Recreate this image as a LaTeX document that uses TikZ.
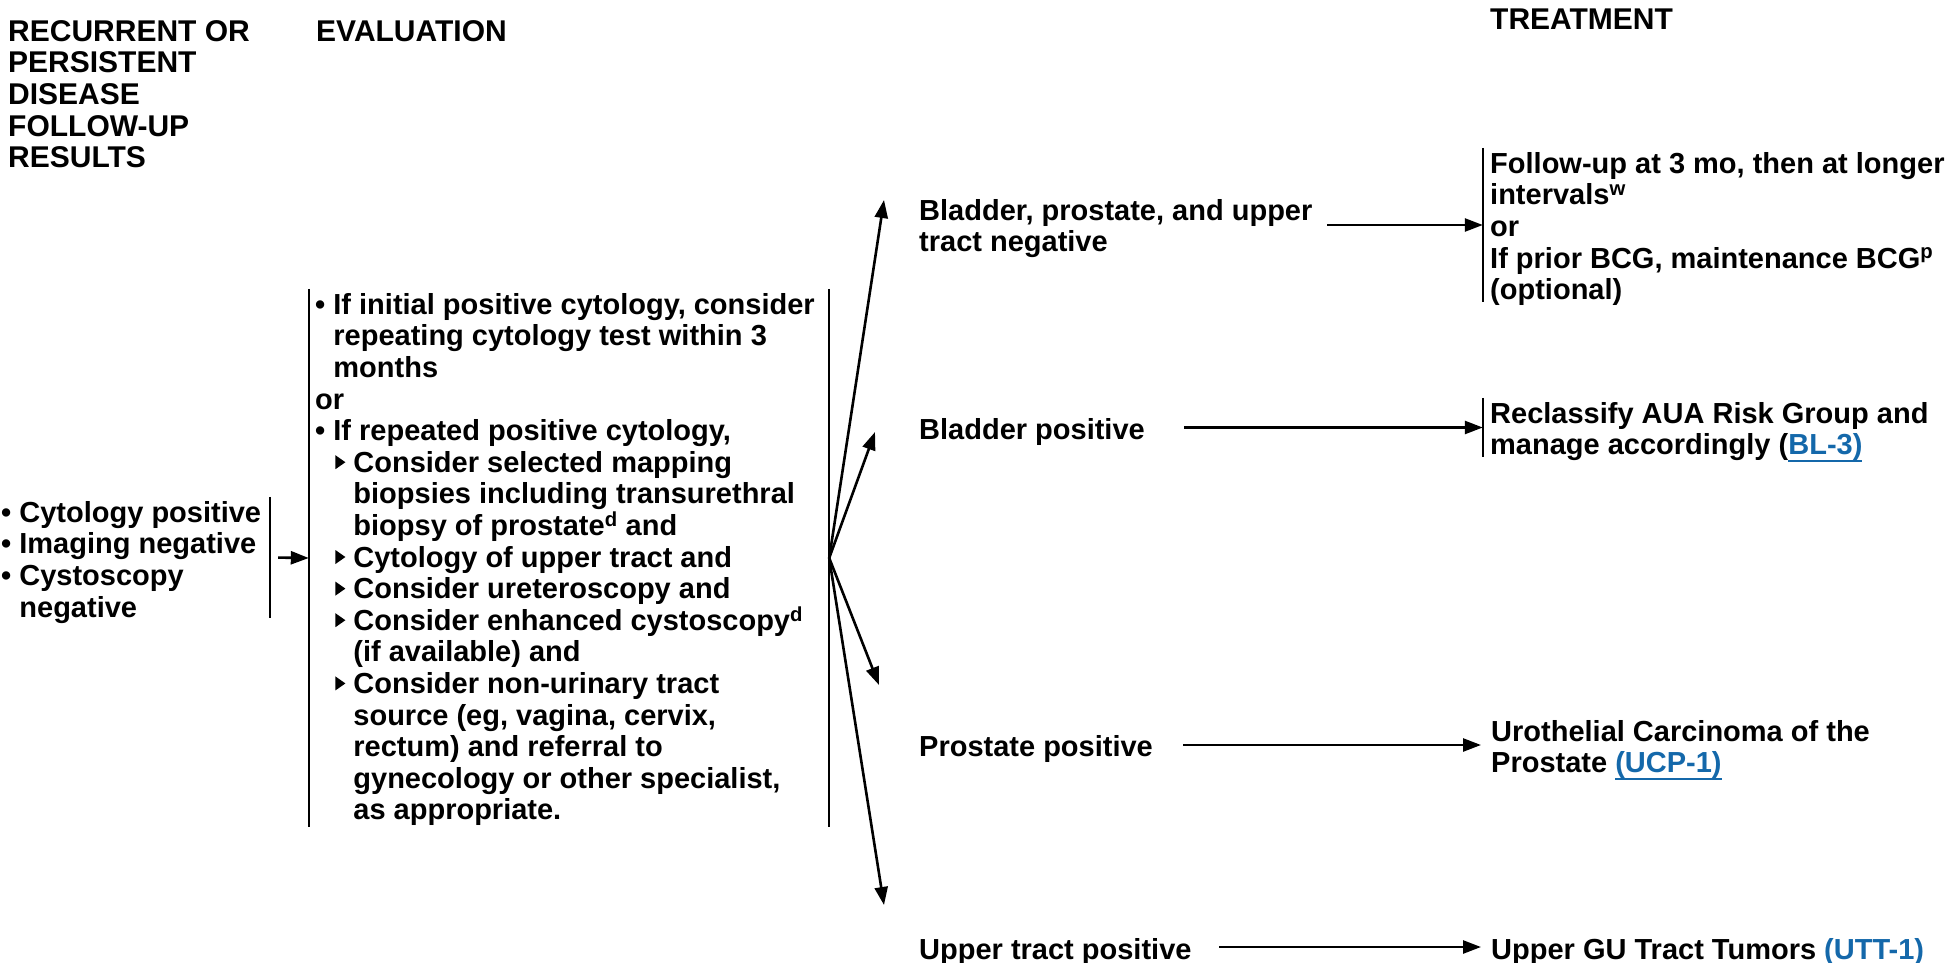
\documentclass[tikz,border=0pt]{standalone}
\usepackage{fontspec}
\setmainfont{Liberation Sans}
\usetikzlibrary{arrows.meta}
\definecolor{linkblue}{RGB}{20,104,170}
\newsavebox\lnkbox
\newcommand\lnk[1]{\sbox\lnkbox{\color{linkblue}#1}{\color{linkblue}\rlap{\rule[-7pt]{\wd\lnkbox}{1.8pt}}}\usebox\lnkbox}
\newcommand\bind{\phantom{\textbullet\ }}
\newcommand\tribul{\makebox[20pt][l]{\hspace{2pt}\tikz[baseline=0pt]\fill (0pt,3pt) -- (0pt,17pt) -- (10pt,10pt) -- cycle;}}
\begin{document}
\begin{tikzpicture}[x=1pt,y=-1pt,
  font=\fontsize{29}{31.6}\selectfont\bfseries,
  txt/.style={anchor=north west, inner sep=0pt, align=left},
  head/.style={txt, font=\fontsize{30}{31.7}\selectfont\bfseries},
  barline/.style={line width=2.4pt},
  arr/.style={line width=2.6pt, -{Triangle[length=18pt,width=13pt]}}]
\useasboundingbox (0,0) rectangle (1952,963);
% headers
\node[head] (h1) at (8,20) {RECURRENT OR\\PERSISTENT\\DISEASE\\FOLLOW-UP\\RESULTS};
\node[head] (h2) at (316,20) {EVALUATION};
\node[head] (h3) at (1490,9) {TREATMENT};
% left column
\node[txt] (left) at (1,501) {\textbullet\ Cytology positive\\\textbullet\ Imaging negative\\\textbullet\ Cystoscopy\\\bind negative};
\node[inner sep=0pt, minimum width=0pt, minimum height=121pt] (lbox) at (270,557.5) {};
\draw[barline] (lbox.north) -- (lbox.south);
% evaluation
\node[inner sep=0pt, minimum width=520pt, minimum height=538pt] (ebox) at (569,558) {};
\draw[barline] (ebox.north west) -- (ebox.south west);
\draw[barline] (ebox.north east) -- (ebox.south east);
\node[txt] (eval) at (315,293) {\textbullet\ If initial positive cytology, consider\\
\bind repeating cytology test within 3\\
\bind months\\
or\\
\textbullet\ If repeated positive cytology,\\
\bind\tribul Consider selected mapping\\
\bind\hspace*{20pt}biopsies including transurethral\\
\bind\hspace*{20pt}biopsy of prostate\textsuperscript{d} and\\
\bind\tribul Cytology of upper tract and\\
\bind\tribul Consider ureteroscopy and\\
\bind\tribul Consider enhanced cystoscopy\textsuperscript{d}\\
\bind\hspace*{20pt}(if available) and\\
\bind\tribul Consider non-urinary tract\\
\bind\hspace*{20pt}source (eg, vagina, cervix,\\
\bind\hspace*{20pt}rectum) and referral to\\
\bind\hspace*{20pt}gynecology or other specialist,\\
\bind\hspace*{20pt}as appropriate.};
\draw[arr, shorten <=8pt] (lbox.east) -- (ebox.west);
% results
\node[txt] (m1) at (919,199) {Bladder, prostate, and upper\\tract negative};
\node[txt] (m2) at (919,418) {Bladder positive};
\node[txt] (m3) at (919,735) {Prostate positive};
\node[txt] (m4) at (919,938) {Upper tract positive};
\coordinate (f1) at (884,200);
\coordinate (f2) at (875,432);
\coordinate (f3) at (879,685);
\coordinate (f4) at (884,905);
\foreach \f in {f1,f2,f3,f4} \draw[arr] (ebox.east) -- (\f);
% treatment
\node[inner sep=0pt, minimum width=0pt, minimum height=154pt] (t1box) at (1483,225) {};
\draw[barline] (t1box.north) -- (t1box.south);
\node[inner sep=0pt, minimum width=0pt, minimum height=59pt] (t2box) at (1483,427.5) {};
\draw[barline] (t2box.north) -- (t2box.south);
\node[txt] (t1) at (1490,152) {Follow-up at 3 mo, then at longer\\intervals\textsuperscript{w}\\or\\If prior BCG, maintenance BCG\textsuperscript{p}\\(optional)};
\node[txt] (t2) at (1490,402) {Reclassify AUA Risk Group and\\manage accordingly (\lnk{BL-3)}};
\node[txt] (t3) at (1491,720) {Urothelial Carcinoma of the\\Prostate \lnk{(UCP-1)}};
\node[txt] (t4) at (1491,938) {Upper GU Tract Tumors \lnk{(UTT-1)}};
\coordinate (s1) at (1327,225);
\coordinate (s2) at (1184,427.5);
\coordinate (s3) at (1183,745);
\coordinate (e3) at (1481,745);
\coordinate (s4) at (1219,947);
\coordinate (e4) at (1481,947);
\draw[arr] (s1) -- (t1box.west);
\draw[arr] (s2) -- (t2box.west);
\draw[arr] (s3) -- (e3);
\draw[arr] (s4) -- (e4);
\end{tikzpicture}
\end{document}
